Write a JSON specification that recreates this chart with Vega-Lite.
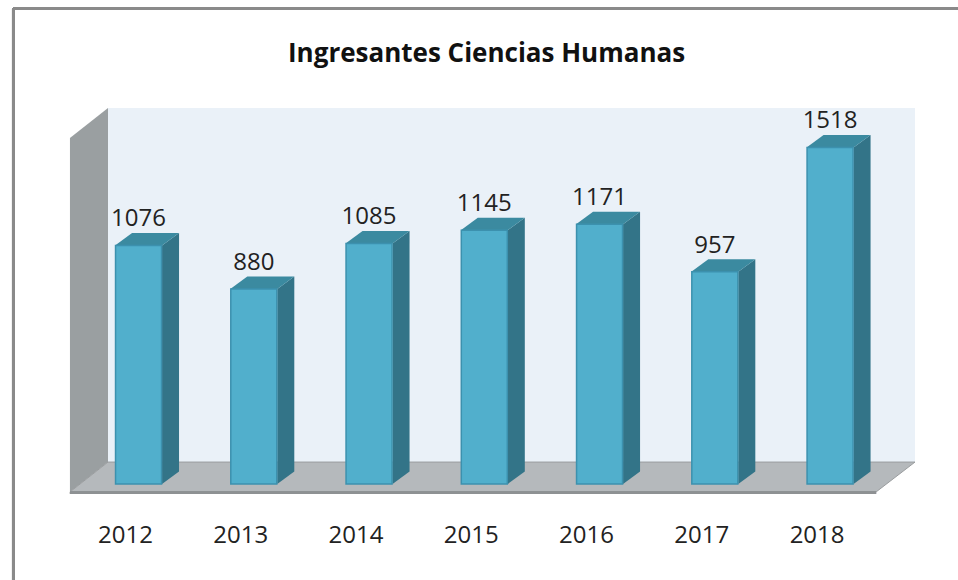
{"$schema":"https://vega.github.io/schema/vega-lite/v6.json","width":958,"height":580,"padding":0,"autosize":"none","background":"#ffffff","view":{"stroke":null},
"title":{"text":"Ingresantes Ciencias Humanas","font":"Open Sans","fontSize":26,"fontWeight":"bold","color":"#111111","anchor":"start","dx":288,"dy":84,"baseline":"middle"},
"datasets":{"bars":[{"year":2012,"value":1076},{"year":2013,"value":880},{"year":2014,"value":1085},{"year":2015,"value":1145},{"year":2016,"value":1171},{"year":2017,"value":957},{"year":2018,"value":1518}],
"sidewall":[{"year":2011.405,"top":1561,"bottom":-36},{"year":2011.735,"top":1696,"bottom":99}],
"floor":[{"v":-36,"from":2011.405,"to":2018.399},{"v":99,"from":2011.735,"to":2018.737}]},
"data":{"name":"bars"},
"layer":[
{"mark":{"type":"rect","fill":"#EAF1F8"},"encoding":{"x":{"datum":2011.735,"type":"quantitative","scale":{"domain":[2010.798,2019.11],"nice":false,"zero":false,"padding":0},"axis":null},"x2":{"datum":2018.737},"y":{"datum":1696,"type":"quantitative","scale":{"domain":[-433,2183],"nice":false,"zero":false},"axis":null},"y2":{"datum":99}}},
{"data":{"name":"sidewall"},"mark":{"type":"area","fill":"#9A9FA1","orient":"vertical"},"encoding":{"x":{"field":"year","type":"quantitative","scale":{"domain":[2010.798,2019.11],"nice":false,"zero":false,"padding":0},"axis":null},"y":{"field":"top","type":"quantitative","stack":null,"scale":{"domain":[-433,2183],"nice":false,"zero":false},"axis":null},"y2":{"field":"bottom"}}},
{"data":{"name":"floor"},"mark":{"type":"area","fill":"#B5B9BC","orient":"horizontal","stroke":"#9A9D9F","strokeWidth":1},"encoding":{"y":{"field":"v","type":"quantitative","scale":{"domain":[-433,2183],"nice":false,"zero":false},"axis":null},"x":{"field":"from","type":"quantitative","stack":null,"scale":{"domain":[2010.798,2019.11],"nice":false,"zero":false,"padding":0},"axis":null},"x2":{"field":"to"}}},
{"mark":{"type":"rule","stroke":"#8E9193","strokeWidth":2.5},"encoding":{"x":{"datum":2011.405,"type":"quantitative","scale":{"domain":[2010.798,2019.11],"nice":false,"zero":false,"padding":0},"axis":null},"x2":{"datum":2018.399},"y":{"datum":-40,"type":"quantitative","scale":{"domain":[-433,2183],"nice":false,"zero":false},"axis":null}}},
{"transform":[{"calculate":"[0,1]","as":"t"},{"flatten":["t"]},{"calculate":"datum.year+0.2039+datum.t*0.1475","as":"sx"},{"calculate":"datum.t*56.4","as":"lo"},{"calculate":"datum.value+datum.t*56.4","as":"hi"}],
"mark":{"type":"area","fill":"#337488","orient":"vertical"},"encoding":{"detail":{"field":"year"},"x":{"field":"sx","type":"quantitative","scale":{"domain":[2010.798,2019.11],"nice":false,"zero":false,"padding":0},"axis":null},"y":{"field":"hi","type":"quantitative","stack":null,"scale":{"domain":[-433,2183],"nice":false,"zero":false},"axis":null},"y2":{"field":"lo"}}},
{"transform":[{"calculate":"[0,1]","as":"t"},{"flatten":["t"]},{"calculate":"datum.year-0.2039+datum.t*0.1475","as":"xa"},{"calculate":"datum.year+0.2039+datum.t*0.1475","as":"xb"},{"calculate":"datum.value+datum.t*56.4","as":"hi"}],
"mark":{"type":"area","fill":"#3B8AA0","orient":"horizontal"},"encoding":{"detail":{"field":"year"},"y":{"field":"hi","type":"quantitative","scale":{"domain":[-433,2183],"nice":false,"zero":false},"axis":null},"x":{"field":"xa","type":"quantitative","stack":null,"scale":{"domain":[2010.798,2019.11],"nice":false,"zero":false,"padding":0},"axis":null},"x2":{"field":"xb"}}},
{"mark":{"type":"bar","size":46,"fill":"#51AFCC","stroke":"#3C91AE","strokeWidth":1.5},"encoding":{"x":{"field":"year","type":"quantitative","scale":{"domain":[2010.798,2019.11],"nice":false,"zero":false,"padding":0},"axis":null},"y":{"field":"value","type":"quantitative","stack":null,"scale":{"domain":[-433,2183],"nice":false,"zero":false},"axis":null},"y2":{"datum":0}}},
{"mark":{"type":"text","font":"Open Sans","fontSize":24,"color":"#222222","baseline":"middle","align":"center","dy":-26},"encoding":{"x":{"field":"year","type":"quantitative","scale":{"domain":[2010.798,2019.11],"nice":false,"zero":false,"padding":0},"axis":null},"y":{"field":"value","type":"quantitative","scale":{"domain":[-433,2183],"nice":false,"zero":false},"axis":null},"text":{"field":"value","type":"quantitative","format":"d"}}},
{"mark":{"type":"text","font":"Open Sans","fontSize":24,"color":"#222222","baseline":"middle","align":"center","dx":-13},"encoding":{"x":{"field":"year","type":"quantitative","scale":{"domain":[2010.798,2019.11],"nice":false,"zero":false,"padding":0},"axis":null},"y":{"datum":-236,"type":"quantitative","scale":{"domain":[-433,2183],"nice":false,"zero":false},"axis":null},"text":{"field":"year","type":"quantitative","format":"d"}}},
{"mark":{"type":"rule","stroke":"#8A8A8A","strokeWidth":3},"encoding":{"x":{"datum":2010.915,"type":"quantitative","scale":{"domain":[2010.798,2019.11],"nice":false,"zero":false,"padding":0},"axis":null},"y":{"datum":-433,"type":"quantitative","scale":{"domain":[-433,2183],"nice":false,"zero":false},"axis":null},"y2":{"datum":2145}}},
{"mark":{"type":"rule","stroke":"#8A8A8A","strokeWidth":3},"encoding":{"y":{"datum":2145,"type":"quantitative","scale":{"domain":[-433,2183],"nice":false,"zero":false},"axis":null},"x":{"datum":2010.915,"type":"quantitative","scale":{"domain":[2010.798,2019.11],"nice":false,"zero":false,"padding":0},"axis":null},"x2":{"datum":2019.11}}}
]}
